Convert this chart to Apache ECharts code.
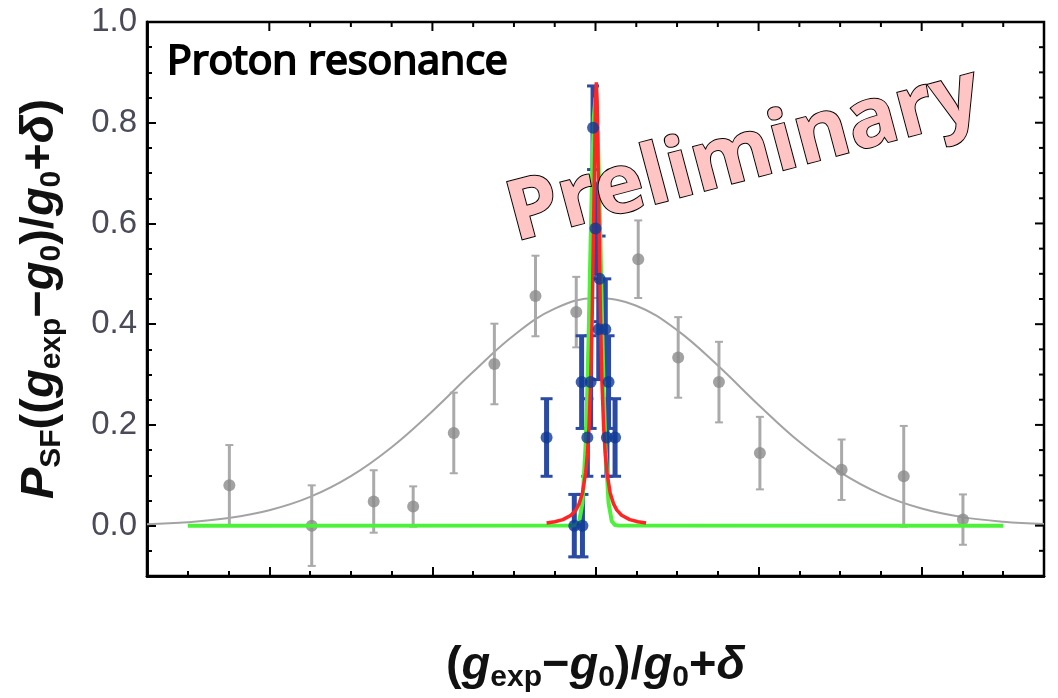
<!DOCTYPE html>
<html><head><meta charset="utf-8">
<script src="https://cdn.jsdelivr.net/npm/echarts@6/dist/echarts.min.js"></script>
<style>html,body{margin:0;padding:0;background:#fff}#c{width:1058px;height:698px}</style>
</head><body><div id="c"></div>
<script>
// gray data (broad scan) with error bars
const grayX = [-2.245, -1.74, -1.36, -1.118, -0.869, -0.62, -0.368, -0.118, 0.262, 0.507, 0.757, 1.008, 1.509, 1.89, 2.253];
const grayY = [0.080, 0.0, 0.048, 0.038, 0.184, 0.321, 0.456, 0.424, 0.529, 0.334, 0.285, 0.144, 0.111, 0.098, 0.012];
const grayErr = [0.08, 0.08, 0.062, 0.04, 0.08, 0.08, 0.08, 0.07, 0.077, 0.08, 0.08, 0.072, 0.06, 0.1, 0.05];
// gray gaussian fit
const fitX = [-2.75,-2.5,-2.25,-2.0,-1.75,-1.5,-1.25,-1.0,-0.75,-0.5,-0.25,0,0.25,0.5,0.75,1.0,1.25,1.5,1.75,2.0,2.25,2.5,2.75];
const fitY = [0.0028,0.0068,0.0150,0.0305,0.0570,0.0983,0.1558,0.2273,0.3055,0.3781,0.4308,0.4519,0.4365,0.3882,0.3179,0.2397,0.1664,0.1063,0.0626,0.0339,0.0169,0.0078,0.0033];
// blue data (fine scan)
const blueX = [-0.30, -0.13, -0.08, -0.05, -0.085, -0.03, -0.015, 0.0, 0.025, 0.02, 0.06, 0.08, 0.07, 0.12];
const blueY = [0.175, 0.0, 0.0, 0.175, 0.285, 0.285, 0.79, 0.59, 0.49, 0.39, 0.39, 0.285, 0.175, 0.175];
const blueErr = [0.077, 0.062, 0.062, 0.077, 0.092, 0.092, 0.083, 0.09, 0.085, 0.1, 0.1, 0.092, 0.077, 0.077];
// red resonance curve
const redX = [-0.30,-0.25,-0.20,-0.15,-0.12,-0.10,-0.08,-0.06,-0.05,-0.04,-0.03,-0.02,-0.01,0.0,0.005,0.01,0.02,0.03,0.04,0.05,0.06,0.07,0.09,0.11,0.13,0.16,0.21,0.26,0.31];
const redY = [0.0054,0.0077,0.0119,0.0206,0.0313,0.0437,0.065,0.1056,0.1408,0.1949,0.2814,0.4221,0.6327,0.8434,0.88,0.8434,0.6327,0.4221,0.2814,0.1949,0.1408,0.1056,0.065,0.0437,0.0313,0.0206,0.0119,0.0077,0.0054];
// green curve
const greenX = [-2.5,-0.14,-0.12,-0.10,-0.08,-0.06,-0.05,-0.04,-0.03,-0.02,-0.01,0,0.01,0.02,0.03,0.04,0.05,0.06,0.08,0.10,0.12,0.14,2.5];
const greenY = [0,0.0001,0.0011,0.0086,0.045,0.163,0.270,0.408,0.562,0.707,0.812,0.85,0.812,0.707,0.562,0.408,0.270,0.163,0.045,0.0086,0.0011,0.0001,0];
// ticks
const yMajorTicks = [0, 0.2, 0.4, 0.6, 0.8, 1.0];
const xMajorTicks = [-2, -1, 0, 1, 2];

const zip2 = (a, b) => a.map((v, i) => [v, b[i]]);
const zip3 = (a, b, c) => a.map((v, i) => [v, b[i], c[i]]);

function errRender(capHalf, width, capWidth, color) {
  return function (params, api) {
    const x = api.value(0), y = api.value(1), e = api.value(2);
    const t = api.coord([x, y + e]), b = api.coord([x, y - e]);
    return {type: 'group', children: [
      {type: 'line', shape: {x1: t[0], y1: t[1], x2: b[0], y2: b[1]}, style: {stroke: color, lineWidth: width}},
      {type: 'line', shape: {x1: t[0] - capHalf, y1: t[1], x2: t[0] + capHalf, y2: t[1]}, style: {stroke: color, lineWidth: capWidth}},
      {type: 'line', shape: {x1: b[0] - capHalf, y1: b[1], x2: b[0] + capHalf, y2: b[1]}, style: {stroke: color, lineWidth: capWidth}}
    ]};
  };
}

function ax(pos, len, cv, mn, mx, iv) {
  const tick = {show: true, inside: true, length: len, lineStyle: {color: '#000', width: 2}};
  if (cv) tick.customValues = cv;
  return {type: 'value', position: pos, min: mn, max: mx, interval: iv,
    axisLine: {show: true, onZero: false, lineStyle: {color: '#000', width: 2.5}},
    axisTick: tick, axisLabel: {show: false}, splitLine: {show: false}};
}

const T = 47;
function rich() {
  const base = () => ({fontFamily: 'Liberation Sans', fontSize: T, fontWeight: 'bold', color: '#111', lineHeight: 54, verticalAlign: 'middle'});
  return {
    pi: Object.assign(base(), {fontStyle: 'italic'}),
    gi: Object.assign(base(), {fontStyle: 'italic'}),
    n: base(),
    sub: {fontFamily: 'Liberation Sans', fontSize: 30, fontWeight: 'bold', color: '#111', lineHeight: 30, verticalAlign: 'bottom'}
  };
}

const x0 = ax('bottom', 5, null, -2.75, 2.75, 0.25);
x0.name = '{n|(}{gi|g}{sub|exp}{n|−}{gi|g}{sub|0}{n|)/}{gi|g}{sub|0}{n|+}{gi|δ}';
x0.nameLocation = 'middle'; x0.nameGap = 63; x0.nameTextStyle = {rich: rich()};
const x1 = ax('bottom', 9, xMajorTicks, -2.75, 2.75, 0.25);
const y0 = ax('left', 5, null, -0.1, 1.0, 0.05);
y0.name = '{pi|P}{sub|SF}{n|((}{gi|g}{sub|exp}{n|−}{gi|g}{sub|0}{n|)/}{gi|g}{sub|0}{n|+}{gi|δ}{n|)}';
y0.nameLocation = 'middle'; y0.nameGap = 80; y0.nameRotate = 90; y0.nameTextStyle = {rich: rich()};
const y1 = ax('left', 9, yMajorTicks, -0.1, 1.0, 0.05);
y1.axisLabel = {show: true, customValues: yMajorTicks, formatter: v => v.toFixed(1), fontFamily: 'Liberation Sans', fontSize: 33, color: '#4a4a58', margin: 10};

const chart = echarts.init(document.getElementById('c'), null, {renderer: 'canvas'});
chart.setOption({
  animation: false,
  backgroundColor: '#fff',
  grid: {left: 147, right: 14, top: 22, bottom: 121, show: true, borderColor: '#000', borderWidth: 2.5, backgroundColor: 'transparent'},
  xAxis: [x0, x1],
  yAxis: [y0, y1],
  graphic: [
    {id: 'wm', type: 'text', x: 744, y: 156, rotation: 0.26, z: 0,
      style: {text: 'Preliminary', x: 0, y: 0, textAlign: 'center', textVerticalAlign: 'middle',
        font: 'bold 83px "Open Sans"', fill: '#ffc4c4'}},
    {id: 'lbl', type: 'text', x: 167, y: 62, z: 5,
      style: {text: 'Proton resonance', x: 0, y: 0, textAlign: 'left', textVerticalAlign: 'middle',
        font: '41px "Open Sans"', fill: '#000'}}
  ],
  series: [
    {type: 'line', data: zip2(fitX, fitY), smooth: 0.4, showSymbol: false, symbol: 'none',
      xAxisIndex: 1, yAxisIndex: 1, lineStyle: {color: '#a3a3a3', width: 2}, z: 3},
    {type: 'custom', data: zip3(grayX, grayY, grayErr), encode: {x: 0, y: 1},
      renderItem: errRender(4, 3, 2, '#aaaaaa'), z: 4},
    {type: 'scatter', data: zip2(grayX, grayY), symbolSize: 12,
      xAxisIndex: 1, yAxisIndex: 1, itemStyle: {color: '#8b8b8b'}, z: 5},
    {type: 'custom', data: zip3(blueX, blueY, blueErr), encode: {x: 0, y: 1},
      renderItem: errRender(6, 5, 3, '#2a4aa3'), z: 6},
    {type: 'line', data: zip2(greenX, greenY), showSymbol: false, symbol: 'none',
      lineStyle: {color: '#4cf23a', width: 4}, z: 7},
    {type: 'line', data: zip2(redX, redY), showSymbol: false, symbol: 'none',
      lineStyle: {color: '#ff2525', width: 3.5}, z: 8},
    {type: 'scatter', data: zip2(blueX, blueY), symbolSize: 12,
      itemStyle: {color: '#0f3996'}, z: 9}
  ]
});

// top and right frame ticks, placed through the chart's own scales
const tickEls = [];
const yTopPx = chart.convertToPixel({yAxisIndex: 0}, 1.0);
const xRightPx = chart.convertToPixel({xAxisIndex: 0}, 2.75);
for (let k = -10; k <= 10; k++) {
  const v = k * 0.25;
  const px = chart.convertToPixel({xAxisIndex: 0}, v);
  const len = (k % 4 === 0) ? 9 : 5;
  tickEls.push({type: 'line', z: 100, silent: true,
    shape: {x1: px, y1: yTopPx, x2: px, y2: yTopPx + len}, style: {stroke: '#000', lineWidth: 2}});
}
for (let k = -1; k <= 19; k++) {
  const v = +(k * 0.05).toFixed(2);
  const py = chart.convertToPixel({yAxisIndex: 0}, v);
  const len = (k % 4 === 0) ? 9 : 5;
  tickEls.push({type: 'line', z: 100, silent: true,
    shape: {x1: xRightPx, y1: py, x2: xRightPx - len, y2: py}, style: {stroke: '#000', lineWidth: 2}});
}
chart.setOption({graphic: tickEls});
</script>
</body></html>
